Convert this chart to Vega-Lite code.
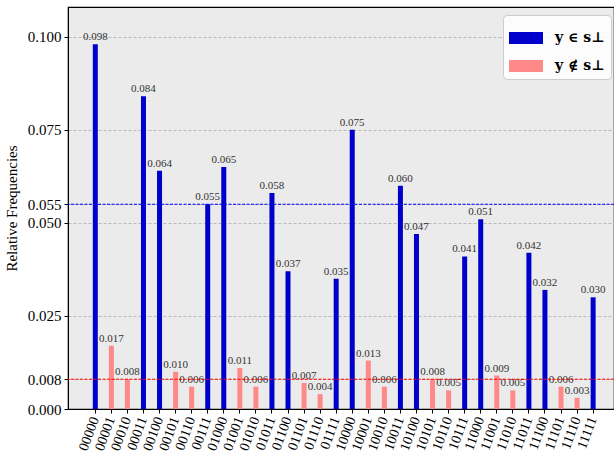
{
  "$schema": "https://vega.github.io/schema/vega-lite/v6.json",
  "width": 546,
  "height": 402,
  "autosize": {"type": "none"},
  "padding": {"left": 68, "top": 7, "right": 0, "bottom": 46},
  "background": "white",
  "config": {
    "view": {"fill": "#ebebeb", "stroke": "black", "strokeWidth": 1.2},
    "font": "Liberation Serif",
    "axis": {
      "labelFont": "Liberation Serif",
      "titleFont": "Liberation Serif",
      "labelColor": "black",
      "titleColor": "black",
      "domainColor": "black",
      "tickColor": "black",
      "tickSize": 4
    }
  },
  "data": {
    "values": [
      {"b": "00000", "v": 0.098, "g": "y ∈ s⊥"},
      {"b": "00001", "v": 0.017, "g": "y ∉ s⊥"},
      {"b": "00010", "v": 0.008, "g": "y ∉ s⊥"},
      {"b": "00011", "v": 0.084, "g": "y ∈ s⊥"},
      {"b": "00100", "v": 0.064, "g": "y ∈ s⊥"},
      {"b": "00101", "v": 0.010, "g": "y ∉ s⊥"},
      {"b": "00110", "v": 0.006, "g": "y ∉ s⊥"},
      {"b": "00111", "v": 0.055, "g": "y ∈ s⊥"},
      {"b": "01000", "v": 0.065, "g": "y ∈ s⊥"},
      {"b": "01001", "v": 0.011, "g": "y ∉ s⊥"},
      {"b": "01010", "v": 0.006, "g": "y ∉ s⊥"},
      {"b": "01011", "v": 0.058, "g": "y ∈ s⊥"},
      {"b": "01100", "v": 0.037, "g": "y ∈ s⊥"},
      {"b": "01101", "v": 0.007, "g": "y ∉ s⊥"},
      {"b": "01110", "v": 0.004, "g": "y ∉ s⊥"},
      {"b": "01111", "v": 0.035, "g": "y ∈ s⊥"},
      {"b": "10000", "v": 0.075, "g": "y ∈ s⊥"},
      {"b": "10001", "v": 0.013, "g": "y ∉ s⊥"},
      {"b": "10010", "v": 0.006, "g": "y ∉ s⊥"},
      {"b": "10011", "v": 0.060, "g": "y ∈ s⊥"},
      {"b": "10100", "v": 0.047, "g": "y ∈ s⊥"},
      {"b": "10101", "v": 0.008, "g": "y ∉ s⊥"},
      {"b": "10110", "v": 0.005, "g": "y ∉ s⊥"},
      {"b": "10111", "v": 0.041, "g": "y ∈ s⊥"},
      {"b": "11000", "v": 0.051, "g": "y ∈ s⊥"},
      {"b": "11001", "v": 0.009, "g": "y ∉ s⊥"},
      {"b": "11010", "v": 0.005, "g": "y ∉ s⊥"},
      {"b": "11011", "v": 0.042, "g": "y ∈ s⊥"},
      {"b": "11100", "v": 0.032, "g": "y ∈ s⊥"},
      {"b": "11101", "v": 0.006, "g": "y ∉ s⊥"},
      {"b": "11110", "v": 0.003, "g": "y ∉ s⊥"},
      {"b": "11111", "v": 0.030, "g": "y ∈ s⊥"}
    ]
  },
  "encoding": {
    "x": {
      "field": "b",
      "type": "ordinal",
      "sort": null,
      "scale": {"paddingInner": 0, "paddingOuter": 1.0625, "align": 0.6},
      "axis": {
        "title": null,
        "labelAngle": -70,
        "labelAlign": "right",
        "labelBaseline": "middle",
        "labelFontSize": 14,
        "labelPadding": 4,
        "labelDy": 9
      }
    },
    "y": {
      "field": "v",
      "type": "quantitative",
      "scale": {"domain": [0, 0.108], "nice": false, "zero": true},
      "axis": {
        "title": "Relative Frequencies",
        "titleFontSize": 15,
        "titleFontWeight": "normal",
        "titlePadding": 8,
        "values": [0, 0.008, 0.025, 0.05, 0.055, 0.075, 0.1],
        "format": ".3f",
        "labelFontSize": 15,
        "labelPadding": 3,
        "grid": true,
        "gridColor": "#b8b8b8",
        "gridDash": [3, 2],
        "gridWidth": 1
      }
    }
  },
  "layer": [
    {
      "mark": {"type": "bar", "size": 5},
      "encoding": {
        "color": {
          "field": "g",
          "type": "nominal",
          "scale": {"domain": ["y ∈ s⊥", "y ∉ s⊥"], "range": ["#0000cc", "#ff8888"]},
          "legend": {
            "title": null,
            "orient": "none",
            "legendX": 435,
            "legendY": 8,
            "direction": "vertical",
            "symbolType": "M-1,-0.35H1V0.35H-1Z",
            "symbolSize": 1156,
            "symbolStrokeWidth": 0,
            "symbolOpacity": 1,
            "labelFont": "DejaVu Serif",
            "labelFontSize": 14,
            "labelFontWeight": "bold",
            "labelColor": "black",
            "labelOffset": 12,
            "rowPadding": 4,
            "padding": 6,
            "fillColor": "rgba(255,255,255,0.85)",
            "strokeColor": "#cccccc",
            "cornerRadius": 4
          }
        }
      }
    },
    {
      "mark": {"type": "text", "baseline": "alphabetic", "dy": -4, "fontSize": 11, "color": "#333333", "font": "Liberation Serif"},
      "encoding": {
        "text": {"field": "v", "type": "quantitative", "format": ".3f"}
      }
    },
    {
      "data": {"values": [{"r": 0.055, "c": "#0000ff"}, {"r": 0.008, "c": "#ff0000"}]},
      "mark": {"type": "rule", "strokeDash": [3, 1.5], "strokeWidth": 1},
      "encoding": {
        "x": null,
        "y": {"field": "r", "type": "quantitative"},
        "color": {"field": "c", "type": "nominal", "scale": null, "legend": null}
      }
    }
  ]
}
